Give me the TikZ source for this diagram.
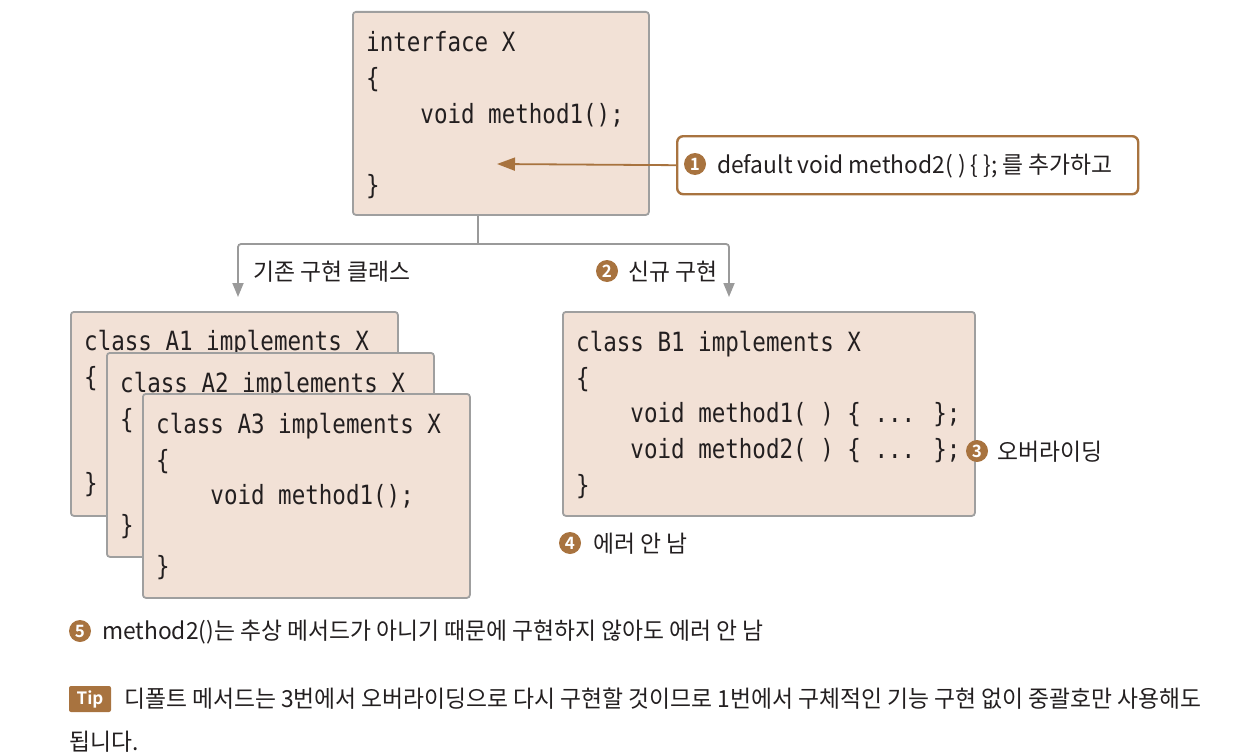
\documentclass[tikz,border=0pt]{standalone}
\usepackage{fontspec}
\usetikzlibrary{arrows.meta}
\newfontfamily\kr[FakeStretch=0.97]{Noto Sans CJK KR}
\newfontfamily\krb{Noto Sans CJK KR Bold}
\newfontfamily\codefont[FakeStretch=0.85]{DejaVu Sans Mono}
\definecolor{boxfill}{HTML}{F2E1D6}
\definecolor{boxline}{HTML}{9F9F9F}
\definecolor{accent}{HTML}{A8733F}
\definecolor{ink}{HTML}{231F20}
\definecolor{conn}{HTML}{9A9A9A}
\tikzset{
  codebox/.style={draw=boxline, fill=boxfill, line width=1.8pt, rounded corners=3pt, anchor=north west, inner sep=0pt},
  code/.style={font=\codefont\fontsize{26.5}{30}\selectfont, text=ink, anchor=base west, inner sep=0pt},
  lbl/.style={font=\kr\fontsize{23.5}{28}\selectfont, text=ink, anchor=base west, inner sep=0pt},
  num/.style={circle, fill=accent, text=white, inner sep=0pt, minimum size=22pt, font=\krb\fontsize{17}{17}\selectfont},
  garrow/.style={draw=conn, line width=1.8pt, -{Triangle[width=11pt,length=14pt]}},
  barrow/.style={draw=accent, line width=1.8pt, -{Triangle[width=13pt,length=18pt]}},
}
\begin{document}
\begin{tikzpicture}[x=1pt,y=-1pt]
\useasboundingbox (0,0) rectangle (1235,752);
% interface box
\node[codebox, minimum width=296pt, minimum height=203pt] (iface) at (352,11) {};
\node[code] (i1) at (366,52) {interface X};
\node[code] (i2) at (366,87.5) {\{};
\node[code] (i3) at (366,123) {\hphantom{xxxx}void method1();};
\node[code] (i4) at (366,194) {\}};
% callout
\node[draw=accent, fill=white, line width=2.4pt, rounded corners=6pt, minimum width=461pt, minimum height=58pt, anchor=north west, inner sep=0pt] (call) at (676,135) {};
\node[num] (n1) at (695,164) {1};
\node[lbl] (t1) at (717,173) {default void method2( ) \{ \}; 를 추가하고};
\coordinate (ipt) at (497,164);
\draw[barrow] (call.west) -- (ipt);
% connectors
\coordinate (j) at (478,244);
\coordinate (lt) at (238,297);
\coordinate (rt) at (729,297);
\draw[draw=conn, line width=1.8pt] (j |- iface.south) -- (j);
\draw[garrow, rounded corners=3pt] (j) -| (lt);
\draw[garrow, rounded corners=3pt] (j) -| (rt);
\node[lbl] (t2) at (253,280) {기존 구현 클래스};
\node[num] (n2) at (607,271) {2};
\node[lbl] (t3) at (628,280) {신규 구현};
% A boxes
\node[codebox, minimum width=327pt, minimum height=204pt] (a1) at (70,311) {};
\node[code] (a1l1) at (84,350) {class A1 implements X};
\node[code] (a1l2) at (84,386) {\{};
\node[code] (a1l5) at (84,492) {\}};
\node[codebox, minimum width=327pt, minimum height=204pt] (a2) at (106,352) {};
\node[code] (a2l1) at (120,392) {class A2 implements X};
\node[code] (a2l2) at (120,428) {\{};
\node[code] (a2l5) at (120,534) {\}};
\node[codebox, minimum width=327pt, minimum height=204pt] (a3) at (142,393) {};
\node[code] (a3l1) at (156,433) {class A3 implements X};
\node[code] (a3l2) at (156,469) {\{};
\node[code] (a3l3) at (156,504.5) {\hphantom{xxxx}void method1();};
\node[code] (a3l5) at (156,575) {\}};
% B box
\node[codebox, minimum width=412pt, minimum height=204pt] (b1) at (562,311) {};
\node[code] (b1l1) at (576,351) {class B1 implements X};
\node[code] (b1l2) at (576,387) {\{};
\node[code] (b1l3) at (576,422.5) {\hphantom{xxxx}void method1( ) \{ ... \};};
\node[code] (b1l4) at (576,458) {\hphantom{xxxx}void method2( ) \{ ... \};};
\node[code] (b1l5) at (576,494) {\}};
\node[num] (n3) at (977,451) {3};
\node[lbl] (t4) at (997,460) {오버라이딩};
\node[num] (n4) at (570,543) {4};
\node[lbl] (t5) at (593,552) {에러 안 남};
% notes
\node[num] (n5) at (80,631) {5};
\node[lbl] (t6) at (102,639) {method2()는 추상 메서드가 아니기 때문에 구현하지 않아도 에러 안 남};
\node[fill=accent, rounded corners=2pt, minimum width=42pt, minimum height=26pt, inner sep=0pt, text=white, font=\krb\fontsize{17}{17}\selectfont] (tip) at (90,699) {Tip};
\node[lbl] (t7) at (124,707) {디폴트 메서드는 3번에서 오버라이딩으로 다시 구현할 것이므로 1번에서 구체적인 기능 구현 없이 중괄호만 사용해도};
\node[lbl] (t8) at (69,750) {됩니다.};
\end{tikzpicture}
\end{document}
